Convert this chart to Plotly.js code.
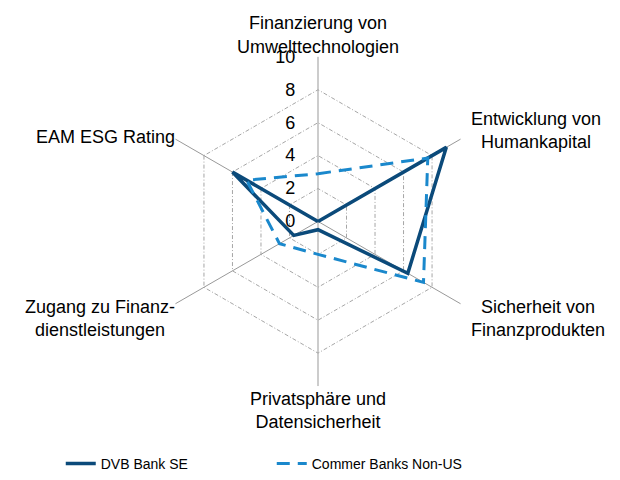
<!DOCTYPE html>
<html><head><meta charset="utf-8">
<script src="https://cdn.plot.ly/plotly-3.0.1.min.js"></script>
<style>html,body{margin:0;padding:0;background:#fff}</style>
</head><body><div id="chart" style="width:620px;height:480px"></div>
<script>
const categories = ["Finanzierung von<br>Umwelttechnologien", "Entwicklung von<br>Humankapital", "Sicherheit von<br>Finanzprodukten", "Privatsphäre und<br>Datensicherheit", "Zugang zu Finanz-<br>dienstleistungen", "EAM ESG Rating"];
const seriesNames = ["DVB Bank SE", "Commer Banks Non-US"];
const dvbValues = [0, 9.0, 6.3, 0.5, 1.7, 6.0];
const commerValues = [2.9, 7.7, 7.4, 2.0, 2.7, 5.0];
const radialTicks = [0, 2, 4, 6, 8, 10];

function closeLoop(a) { return a.concat([a[0]]); }

const font = "Liberation Sans, Arial, sans-serif";
const labelSize = 18;

// Center multi-line angular labels (Plotly aligns them to one side) by padding with no-break spaces.
const cv = document.createElement('canvas').getContext('2d');
cv.font = labelSize + 'px "Liberation Sans", Arial, sans-serif';
const nbsp = '\u00a0';
const nbW = cv.measureText(nbsp).width || 5;
function pad(n) { return nbsp.repeat(Math.max(0, Math.round(n))); }
const tickText = categories.map((c, i) => {
  const ang = (90 - 360 / categories.length * i) * Math.PI / 180;
  const cs = Math.cos(ang);
  const lines = c.split('<br>');
  const widths = lines.map(l => cv.measureText(l).width);
  const maxW = Math.max.apply(null, widths);
  return lines.map((l, k) => {
    const half = (maxW - widths[k]) / 2 / nbW;
    if (cs > 0.1) return pad(half + 8 / nbW) + l;      // right side: text-anchor start
    if (cs < -0.1) return l + pad(half);               // left side: text-anchor end
    return l;
  }).join('<br>');
});

const traces = [
  {type: 'scatterpolar', mode: 'lines', name: seriesNames[0],
   r: closeLoop(dvbValues), theta: closeLoop(categories),
   line: {color: '#0b4a7a', width: 3.5}},
  {type: 'scatterpolar', mode: 'lines', name: seriesNames[1],
   r: closeLoop(commerValues), theta: closeLoop(categories),
   line: {color: '#1a88cc', width: 3, dash: '13px,8px'}}
];
const layout = {
  width: 620, height: 480,
  margin: {l: 0, r: 0, t: 0, b: 0},
  paper_bgcolor: '#fff',
  font: {family: font, size: labelSize, color: '#000'},
  showlegend: true,
  legend: {orientation: 'h', x: 0.098, xanchor: 'left', y: -0.008, yanchor: 'bottom',
           font: {family: font, size: 14, color: '#000'}, entrywidth: 166, entrywidthmode: 'pixels'},
  polar: {
    domain: {x: [152/620, 484/620], y: [(256.7-166)/480, (256.7+166)/480]},
    bgcolor: '#fff',
    gridshape: 'linear',
    angularaxis: {direction: 'clockwise', rotation: 90, showline: false,
      tickmode: 'array', tickvals: categories, ticktext: tickText,
      gridcolor: '#999', gridwidth: 1, ticks: '', tickfont: {family: font, size: labelSize, color: '#000'}},
    radialaxis: {range: [0, 10], tickvals: radialTicks, angle: 90, tickangle: 90, side: 'counterclockwise',
      showline: false, ticks: 'outside', ticklen: 16, tickcolor: 'rgba(0,0,0,0)',
      gridcolor: '#a6a6a6', griddash: '4px,2px,1px,2px', gridwidth: 1,
      tickfont: {family: font, size: labelSize, color: '#000'}}
  }
};
Plotly.newPlot('chart', traces, layout, {displayModeBar: false, staticPlot: true});
</script></body></html>
